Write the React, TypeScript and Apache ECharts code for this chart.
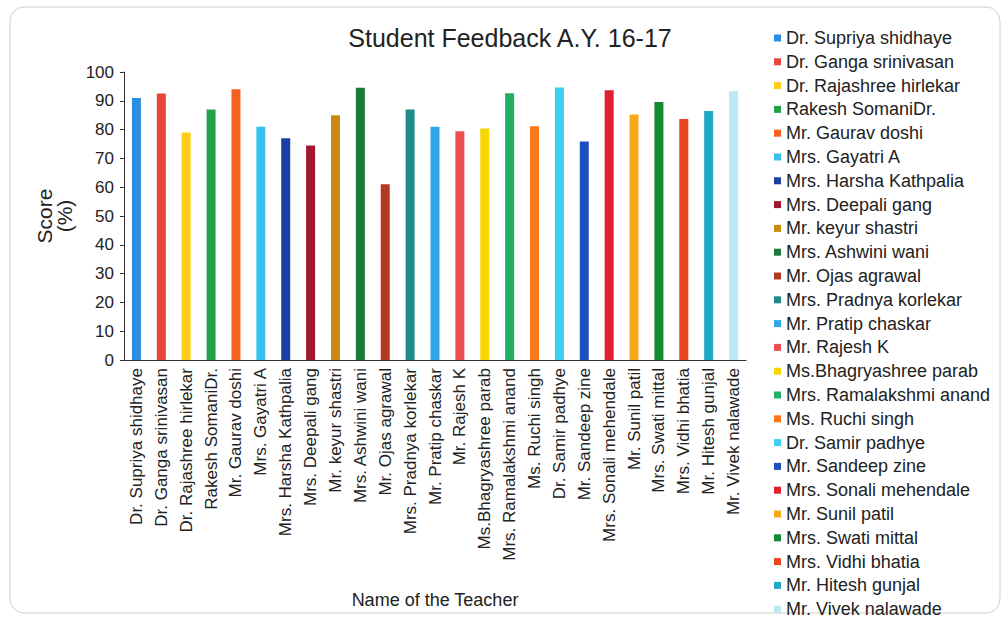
import React, { useEffect, useRef } from "react";
import * as echarts from "echarts";

const teachers = [
  "Dr. Supriya shidhaye",
  "Dr. Ganga srinivasan",
  "Dr. Rajashree hirlekar",
  "Rakesh SomaniDr.",
  "Mr. Gaurav doshi",
  "Mrs. Gayatri A",
  "Mrs. Harsha Kathpalia",
  "Mrs. Deepali gang",
  "Mr. keyur shastri",
  "Mrs. Ashwini wani",
  "Mr. Ojas agrawal",
  "Mrs. Pradnya korlekar",
  "Mr. Pratip chaskar",
  "Mr. Rajesh K",
  "Ms.Bhagryashree parab",
  "Mrs. Ramalakshmi anand",
  "Ms. Ruchi singh",
  "Dr. Samir padhye",
  "Mr. Sandeep zine",
  "Mrs. Sonali mehendale",
  "Mr. Sunil patil",
  "Mrs. Swati mittal",
  "Mrs. Vidhi bhatia",
  "Mr. Hitesh gunjal",
  "Mr. Vivek nalawade",
];

const scores = [
  91, 92.5, 79, 87, 94, 81, 77, 74.5, 85, 94.5, 61, 87, 81, 79.4, 80.4, 92.6,
  81.2, 94.6, 75.9, 93.7, 85.2, 89.6, 83.7, 86.5, 93.4,
];

const colors = [
  "#2a8fe0", "#e8453c", "#ffcc1a", "#22a34a", "#f4621f", "#35c3ea",
  "#1a3fa6", "#a0172e", "#c98a12", "#1a7a3a", "#b23a22", "#1d8a8c",
  "#2ea6e8", "#ee4e4e", "#f8d700", "#22b060", "#f77a1a", "#3cd0ef",
  "#1c4fc0", "#e01f30", "#f7a91a", "#138a30", "#e84420", "#1fa8c8",
  "#bde9f5",
];

const yTicks = { min: 0, max: 100, interval: 10 };

const FONT = "Liberation Sans, Arial, sans-serif";

export default function App() {
  const ref = useRef<HTMLDivElement>(null);
  useEffect(() => {
    if (!ref.current) return;
    const chart = echarts.init(ref.current, undefined, { renderer: "svg" });
    const series = teachers.map((name, i) => ({
      name,
      type: "bar",
      stack: "all",
      barWidth: 9,
      itemStyle: { color: colors[i] },
      data: teachers.map((_, j) => (j === i ? scores[i] : "-")),
    }));
    chart.setOption({
      animation: false,
      backgroundColor: "#ffffff",
      textStyle: { fontFamily: FONT },
      title: {
        text: "Student Feedback A.Y. 16-17",
        left: 505,
        top: 20,
        textAlign: "center",
        textStyle: { fontSize: 25, fontWeight: "normal", color: "#222", fontFamily: FONT },
      },
      legend: {
        orient: "vertical",
        left: 774,
        top: 29,
        height: 591,
        padding: 0,
        itemWidth: 7,
        itemHeight: 7,
        itemGap: 5.8,
        icon: "rect",
        textStyle: { fontSize: 18, color: "#222", lineHeight: 18, fontFamily: FONT },
        data: teachers,
      },
      grid: { left: 124, right: 257, top: 72, bottom: 260, containLabel: false },
      xAxis: {
        type: "category",
        data: teachers,
        name: "Name of the Teacher",
        nameLocation: "middle",
        nameGap: 231,
        nameTextStyle: { fontSize: 18, color: "#222", fontFamily: FONT },
        axisLine: { lineStyle: { color: "#333", width: 1 } },
        axisTick: { show: false },
        axisLabel: { rotate: 90, fontSize: 17, color: "#222", margin: 8, interval: 0, fontFamily: FONT },
      },
      yAxis: {
        type: "value",
        min: yTicks.min,
        max: yTicks.max,
        interval: yTicks.interval,
        name: "Score\n(%)",
        nameLocation: "middle",
        nameGap: 50,
        nameRotate: 90,
        nameTextStyle: { fontSize: 21, color: "#222", lineHeight: 20, fontFamily: FONT },
        axisLine: { show: true, lineStyle: { color: "#333", width: 1 } },
        axisTick: { show: true, length: 4, lineStyle: { color: "#333" } },
        splitLine: { show: false },
        axisLabel: { fontSize: 17, color: "#222", margin: 10, fontFamily: FONT },
      },
      graphic: [
        {
          type: "rect",
          shape: { x: 10, y: 7, width: 990, height: 606, r: 14 },
          style: { fill: "none", stroke: "#d0d0d0", lineWidth: 1 },
          silent: true,
        },
      ],
      series,
    });
    return () => chart.dispose();
  }, []);
  return <div ref={ref} style={{ width: 1003, height: 620, position: "absolute", left: 0, top: 0 }} />;
}
